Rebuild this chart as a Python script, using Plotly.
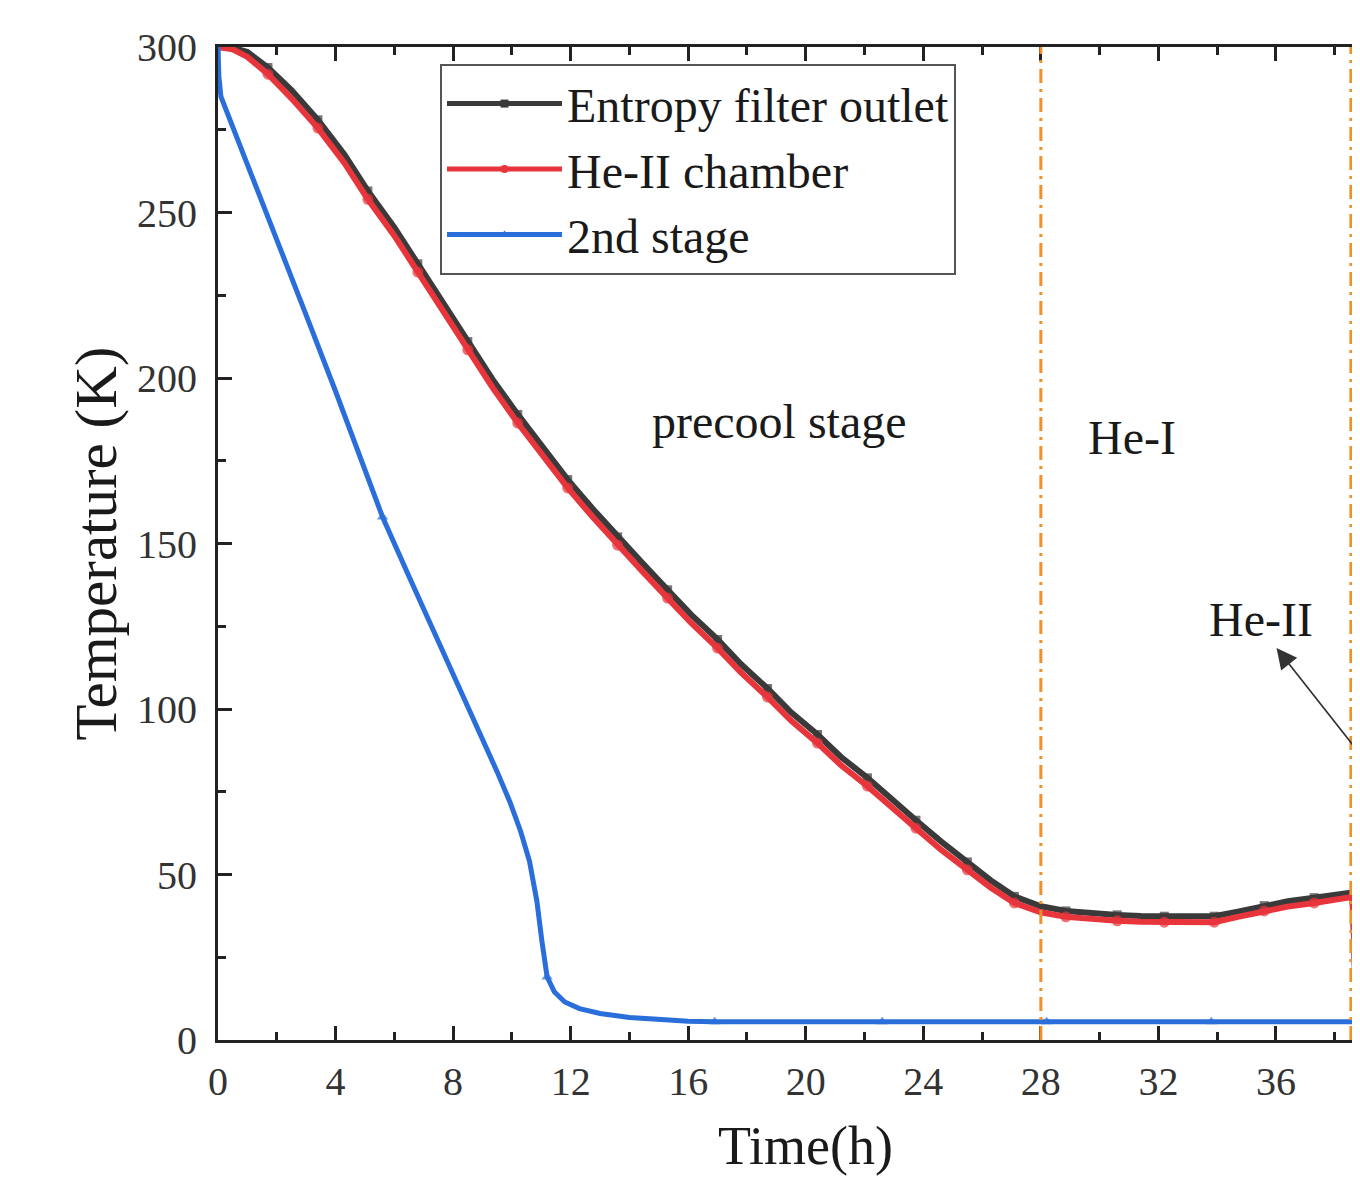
import plotly.graph_objects as go

# ---- data ----
red_t = [0, 0.5, 1.0, 1.7, 2.5, 3.4, 4.3, 5.1, 6.0, 6.8,
         7.65, 8.5, 9.35, 10.2, 11.05, 11.9, 12.75, 13.6, 14.45, 15.3,
         16.1, 17.0, 17.8, 18.7, 19.5, 20.4, 21.2, 22.1, 22.9, 23.75,
         24.6, 25.5, 26.3, 27.1, 28.0, 28.85, 29.7, 30.6, 31.4, 32.2,
         33.1, 33.9, 34.7, 35.6, 36.4, 37.3, 38.1, 38.6, 38.66, 38.7,
         38.74, 39.0]
red_T = [300, 299.3, 297, 291.8, 284.5, 275.5, 265, 254, 243, 232,
         220, 208.5, 197, 186.4, 176.5, 166.8, 158, 149.5, 141.5, 133.5,
         126, 118.4, 111, 103.6, 96.5, 89.7, 83, 76.7, 70.3, 64,
         57.5, 51.4, 46, 41.4, 38.6, 37.2, 36.5, 36, 35.7, 35.6,
         35.6, 35.6, 37.2, 39, 40.3, 41.4, 42.5, 43.2, 30, 10,
         1.8, 1.8]
black_t = list(red_t)
black_T = [300, 299.8, 298.5, 293.8, 287, 278, 267.5, 256.5, 245.5, 234.5,
           222.5, 211, 199.5, 189, 179, 169.3, 160.5, 152, 144, 136,
           128.5, 121, 113.5, 106.2, 99, 92.3, 85.5, 79.2, 72.8, 66.4,
           60, 53.8, 48.2, 43.4, 40.4, 39, 38.3, 37.8, 37.5, 37.4,
           37.4, 37.4, 38.8, 40.6, 41.9, 43, 44, 44.6, 31, 11,
           2, 2]
blue_t = [0, 0.03, 0.1, 0.5, 1, 2, 3, 4, 5, 5.6,
          6.5, 7.45, 8.2, 8.9, 9.5, 9.93, 10.3, 10.6, 10.85, 11.02,
          11.2, 11.45, 11.8, 12.3, 13, 14, 15, 16, 16.9, 22.6,
          28.2, 33.8, 39]
blue_T = [300, 291, 285, 276, 265, 242, 219, 196, 172, 158,
          140, 121.5, 106.5, 93, 81, 72, 63, 54, 42, 30,
          19, 14.5, 11.5, 9.5, 8, 6.8, 6.1, 5.7, 5.5, 5.5,
          5.5, 5.5, 5.5]
blue_marker_t = [5.6, 11.2, 16.9, 22.6, 28.2, 33.8]

series_names = ["Entropy filter outlet", "He-II chamber", "2nd stage"]
stage_bounds = [28, 38.55]
stage_labels = ["precool stage", "He-I", "He-II"]
stage_label_x = [19.1, 31.1, 35.5]
stage_label_y = [187, 182, 127]
arrow_tip = (36.02, 118.4)

x_ticks = [0, 4, 8, 12, 16, 20, 24, 28, 32, 36]
y_ticks = [0, 50, 100, 150, 200, 250, 300]

FONT = "Liberation Serif, Times New Roman, serif"
BLACK, RED, BLUE = "#3a3a3a", "#e8353c", "#2a6edb"


def sparse_sizes(ts, size):
    return [size if (i % 2 == 1 and i >= 3 and t < 38) else 0 for i, t in enumerate(ts)]


blue_sizes = [10 if t in blue_marker_t else 0 for t in blue_t]

fig = go.Figure()
fig.add_trace(go.Scatter(
    x=black_t, y=black_T, name=series_names[0], mode="lines+markers", showlegend=False,
    line=dict(color=BLACK, width=6),
    marker=dict(symbol="square", color=BLACK, size=sparse_sizes(black_t, 9), line=dict(width=0))))
fig.add_trace(go.Scatter(
    x=red_t, y=red_T, name=series_names[1], mode="lines+markers", showlegend=False,
    line=dict(color=RED, width=6),
    marker=dict(symbol="circle", color=RED, size=sparse_sizes(red_t, 11), line=dict(width=0))))
fig.add_trace(go.Scatter(
    x=blue_t, y=blue_T, name=series_names[2], mode="lines+markers", showlegend=False,
    line=dict(color=BLUE, width=5),
    marker=dict(symbol="triangle-up", color=BLUE, size=blue_sizes, line=dict(width=0))))

# legend entries
for name, col, sym in zip(series_names, [BLACK, RED, BLUE], ["square", "circle", "triangle-up"]):
    fig.add_trace(go.Scatter(x=[None], y=[None], name=name, mode="lines+markers",
                             line=dict(color=col, width=5),
                             marker=dict(symbol=sym, color=col, size=8, line=dict(width=0))))

for b in stage_bounds:
    fig.add_shape(type="line", xref="x", yref="y", x0=b, x1=b, y0=0, y1=300,
                  line=dict(color="#f0902a", width=3, dash="14px,6px,3px,6px"))

for txt, x, y in zip(stage_labels, stage_label_x, stage_label_y):
    fig.add_annotation(x=x, y=y, xref="x", yref="y", text=txt, showarrow=False,
                       font=dict(family=FONT, size=48, color="#1a1a1a"))

fig.add_annotation(x=arrow_tip[0], y=arrow_tip[1], xref="x", yref="y", text="",
                   showarrow=True, ax=117, ay=106, arrowhead=2, arrowsize=2.4,
                   arrowwidth=1.7, arrowcolor="#333333")

fig.add_annotation(x=20, y=0, xref="x", yref="paper", text="Time(h)", showarrow=False,
                   yanchor="middle", yshift=-106,
                   font=dict(family=FONT, size=54, color="#1a1a1a"))

fig.update_xaxes(range=[0, 38.86], tickvals=x_ticks, ticks="inside", ticklen=14,
                 tickwidth=3, tickcolor="#222", showline=True, linewidth=3,
                 linecolor="#222", mirror="ticks", showgrid=False, zeroline=False,
                 tickfont=dict(family=FONT, size=40, color="#333"),
                 ticklabelstandoff=4,
                 minor=dict(dtick=2, tick0=0, ticks="inside", ticklen=8,
                            tickwidth=3, tickcolor="#222"))
fig.update_yaxes(range=[0, 300], tickvals=y_ticks, ticks="inside", ticklen=14,
                 tickwidth=3, tickcolor="#222", showline=True, linewidth=3,
                 linecolor="#222", mirror=False, showgrid=False, zeroline=False,
                 tickfont=dict(family=FONT, size=40, color="#333"),
                 ticklabelstandoff=10,
                 title=dict(text="Temperature (K)", standoff=2,
                            font=dict(family=FONT, size=59, color="#1a1a1a")),
                 minor=dict(dtick=25, tick0=0, ticks="inside", ticklen=8,
                            tickwidth=3, tickcolor="#222"))

fig.update_layout(
    width=1352, height=1168,
    margin=dict(l=210, r=0, t=39, b=136),
    paper_bgcolor="white", plot_bgcolor="white",
    showlegend=True,
    legend=dict(x=0.1944, y=0.983, xanchor="left", yanchor="top",
                bgcolor="white", bordercolor="#555", borderwidth=2,
                itemwidth=115, tracegroupgap=0,
                font=dict(family=FONT, size=48, color="#1a1a1a")),
)

fig.write_html("out.html")
